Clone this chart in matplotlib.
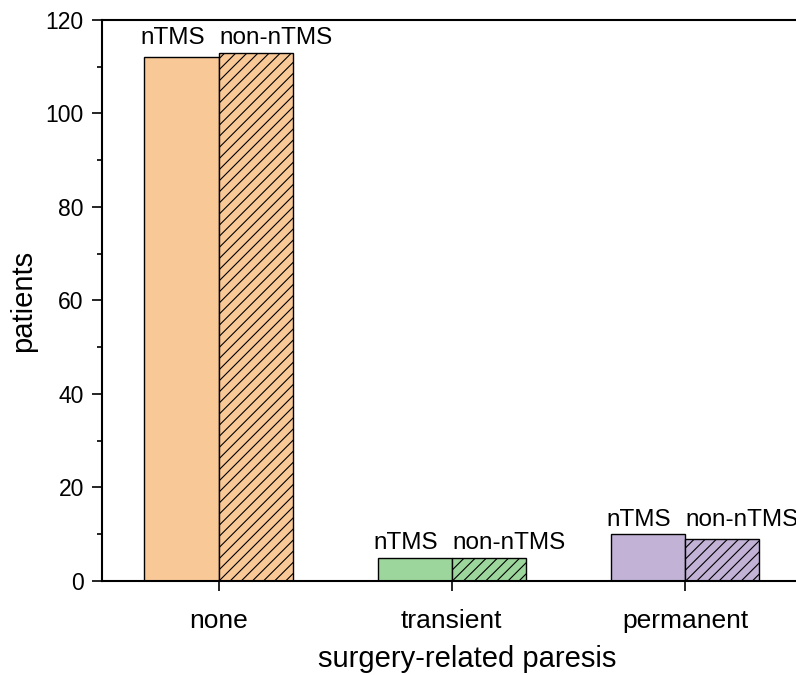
import numpy as np
import matplotlib
matplotlib.use("Agg")
import matplotlib.pyplot as plt
from matplotlib.ticker import MultipleLocator

plt.rcParams["font.family"] = ["Liberation Sans", "DejaVu Sans"]
plt.rcParams["hatch.linewidth"] = 0.8

categories = ["none", "transient", "permanent"]
ntms = [112, 5, 10]
non_ntms = [113, 5, 9]
colors = ["#f9c897", "#9dd69c", "#c1b2d6"]

x = np.arange(1, len(categories) + 1)
w = 0.318

fig = plt.figure(figsize=(7.96, 6.75), dpi=100)
ax = fig.add_axes([0.128, 0.1393, 0.879, 0.8311])

for i in range(len(categories)):
    ax.bar(x[i] - w / 2, ntms[i], w, color=colors[i], edgecolor="black", linewidth=1)
    ax.bar(x[i] + w / 2, non_ntms[i], w, color=colors[i], edgecolor="black",
           linewidth=1, hatch="///")
    top = max(ntms[i], non_ntms[i]) + 0.7
    ax.text(x[i] - w - 0.018, top, "nTMS", ha="left", va="bottom", fontsize=17.5)
    ax.text(x[i] + 0.002, top, "non-nTMS", ha="left", va="bottom", fontsize=17.5,
            clip_on=False)

ax.set_xlim(0.5, 3.5)
ax.set_ylim(0, 120)
ax.set_xticks(x)
ax.set_xticklabels(categories)
ax.yaxis.set_major_locator(MultipleLocator(20))
ax.yaxis.set_minor_locator(MultipleLocator(10))
ax.tick_params(axis="both", which="major", direction="out", length=7, width=1.2)
ax.tick_params(axis="y", which="major", labelsize=16.5, pad=6)
ax.tick_params(axis="x", which="major", labelsize=19, pad=13)
ax.tick_params(axis="y", which="minor", direction="out", length=3.5, width=1.2)
for s in ax.spines.values():
    s.set_linewidth(1.5)

ax.set_xlabel("surgery-related paresis", fontsize=21)
ax.set_ylabel("patients", fontsize=21)
ax.xaxis.set_label_coords(0.522, -0.114)
ax.yaxis.set_label_coords(-0.093, 0.5)

fig.savefig("out.png", dpi=100)
